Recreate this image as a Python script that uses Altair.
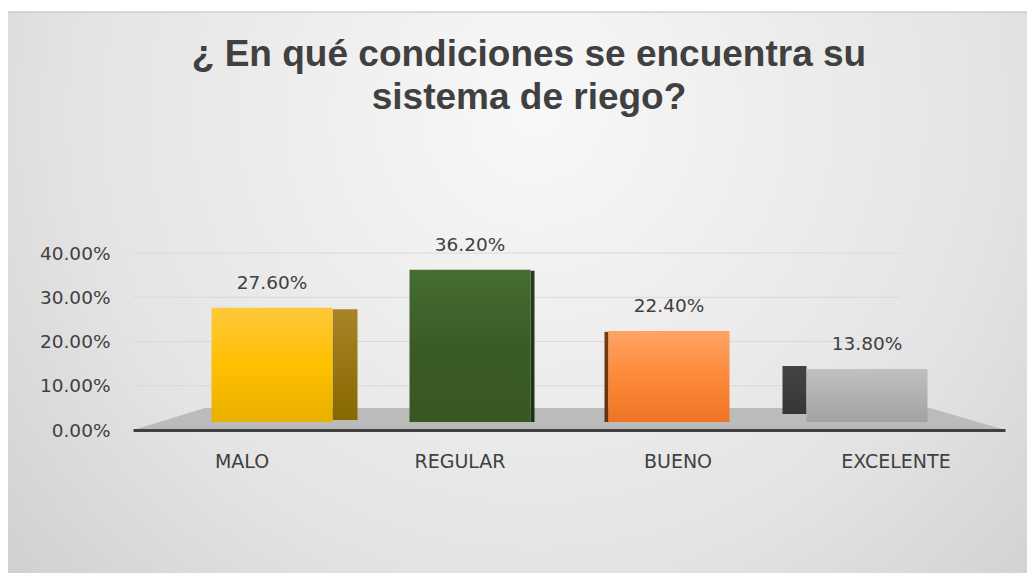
import altair as alt
import pandas as pd

# ---- data ----
categories = ["MALO", "REGULAR", "BUENO", "EXCELENTE"]
values = [0.276, 0.362, 0.224, 0.138]
y_ticks = [0.0, 0.1, 0.2, 0.3, 0.4]
grid_ticks = [0.1, 0.2, 0.3, 0.4]
title_lines = ["¿ En qué condiciones se encuentra su", "sistema de riego?"]

# ---- styles (not data) ----
W, H = 872, 177
PAD = {"left": 125, "top": 245, "right": 22, "bottom": 143}
TEXT = "#404040"
FONT = "DejaVu Sans"

def vgrad(stops):
    return alt.Gradient(
        gradient="linear", x1=0, y1=0, x2=0, y2=1,
        stops=[alt.GradientStop(offset=o, color=c) for o, c in stops],
    )

front_styles = {
    "MALO": dict(dx=30, grad=[(0, "#FFC83C"), (0.5, "#FFC000"), (1, "#E8B000")],
                 side_dx=30 + 73, side_w=25, side_top=1.5, side_bot=-10,
                 side=[(0, "#A88426"), (1, "#886800")]),
    "REGULAR": dict(dx=10, grad=[(0, "#466D31"), (0.5, "#3B5B26"), (1, "#385723")],
                    side_dx=10 + 62.5, side_w=4, side_top=1, side_bot=-8,
                    side=[(0, "#263D18"), (1, "#1E3212")]),
    "BUENO": dict(dx=-9, grad=[(0, "#FFA366"), (0.5, "#FC8A3A"), (1, "#EF7425")],
                  side_dx=-9 - 62.5, side_w=4, side_top=1, side_bot=-8,
                  side=[(0, "#7A3A10"), (1, "#62300C")]),
    "EXCELENTE": dict(dx=-29, grad=[(0, "#C0C0C0"), (1, "#A2A2A2")],
                      side_dx=-29 - 72.5, side_w=24, side_top=-3, side_bot=-16,
                      side=[(0, "#444444"), (1, "#363636")]),
}

df = pd.DataFrame({"cat": categories, "val": values})
one = pd.DataFrame({"k": [0]})
grid_df = pd.DataFrame({"val": grid_ticks})

yscale = alt.Scale(domain=[0, 0.4], nice=False, zero=True)
yaxis = alt.Axis(title=None, values=y_ticks, format=".2%", grid=False,
                 domain=False, ticks=False, labelPadding=23,
                 labelFontSize=18.5, labelFont=FONT, labelColor=TEXT, zindex=2)
xenc = alt.X("cat:N", sort=categories, scale=alt.Scale(domain=categories),
             axis=alt.Axis(title=None, labelAngle=0, ticks=False, labelPadding=22,
                           labelFontSize=19, labelFont=FONT, labelColor=TEXT,
                           domainColor=TEXT, domainWidth=3, grid=False, zindex=2))
yenc = alt.Y("val:Q", scale=yscale, axis=yaxis)

# background panel with radial gradient
background = alt.Chart(one).mark_rect(
    color=alt.Gradient(
        gradient="radial", x1=0.51, y1=0.32, r1=0, x2=0.51, y2=0.32, r2=0.8,
        stops=[alt.GradientStop(offset=0, color="#F8F8F8"),
               alt.GradientStop(offset=0.55, color="#E4E4E4"),
               alt.GradientStop(offset=1, color="#C6C6C6")],
    ),
    stroke="#BDBDBD", strokeWidth=1,
).encode(x=alt.value(-126), x2=alt.value(W + 40), y=alt.value(-241), y2=alt.value(H + 160))

# gridlines
grid = alt.Chart(grid_df).mark_rule(color="#D9D9D9", strokeWidth=1.2).encode(
    y=yenc, x=alt.value(0), x2=alt.value(767),
)

# floor (trapezoid drawn as a custom symbol)
floor = alt.Chart(one).mark_point(
    shape="M -1 0 L -0.835 -0.0505 L 0.828 -0.0505 L 1 0 Z",
    filled=True, opacity=1, color="#BBBBBB", size=W * W, strokeWidth=0,
).encode(x=alt.value(W / 2), y=alt.value(H))

layers = [background, grid, floor]

for cat in categories:
    s = front_styles[cat]
    base = alt.Chart(df).transform_filter(alt.datum.cat == cat)
    side = base.mark_bar(
        width=s["side_w"], xOffset=s["side_dx"], yOffset=s["side_top"],
        y2Offset=s["side_bot"], color=vgrad(s["side"]),
    ).encode(x=xenc, y=yenc, y2=alt.datum(0))
    front = base.mark_bar(
        width=121, xOffset=s["dx"], y2Offset=-8, color=vgrad(s["grad"]),
    ).encode(x=xenc, y=yenc, y2=alt.datum(0))
    label = base.mark_text(
        dx=s["dx"], dy=-25, baseline="middle", align="center",
        font=FONT, fontSize=18.5, color=TEXT,
    ).encode(x=xenc, y=yenc, text=alt.Text("val:Q", format=".2%"))
    layers += [side, front, label]

title1 = alt.Chart(one).mark_text(
    text=title_lines[0], font="Liberation Sans", fontWeight="bold", fontSize=37,
    color=TEXT, align="center", baseline="alphabetic",
).encode(x=alt.value(396), y=alt.value(-187))
title2 = alt.Chart(one).mark_text(
    text=title_lines[1], font="Liberation Sans", fontWeight="bold", fontSize=37,
    color=TEXT, align="center", baseline="alphabetic",
).encode(x=alt.value(396), y=alt.value(-144))
layers += [title1, title2]

chart = alt.layer(*layers).properties(
    width=W, height=H, padding=PAD,
    autosize=alt.AutoSizeParams(type="none"),
).configure_view(stroke=None).configure(background="white")

chart.save("out.html", embed_options={"renderer": "svg", "actions": False})
